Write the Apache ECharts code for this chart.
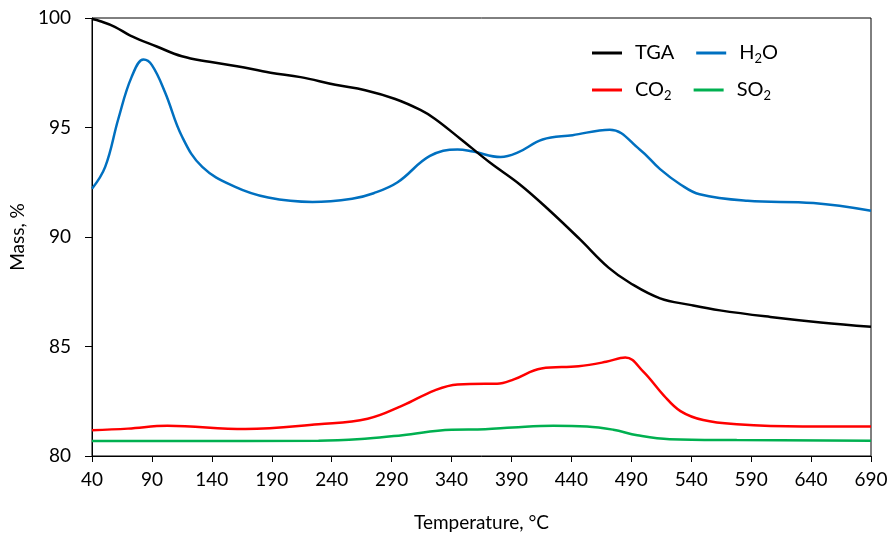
<!DOCTYPE html>
<html>
<head>
<meta charset="utf-8">
<script src="https://cdn.jsdelivr.net/npm/echarts@6/dist/echarts.min.js"></script>
<style>
  html, body { margin: 0; padding: 0; background: #fff; }
  #chart { width: 894px; height: 537px; }
</style>
</head>
<body>
<div id="chart"></div>
<script>
// values
const xTicks = [40, 90, 140, 190, 240, 290, 340, 390, 440, 490, 540, 590, 640, 690];
const yTicks = [80, 85, 90, 95, 100];

const tgaT = [40, 47, 59, 72, 94, 115, 138, 161, 189, 214, 243, 268, 293, 314, 326, 347, 372, 397, 422, 447, 471, 489, 514, 539, 564, 606, 648, 690];
const tgaV = [99.95, 99.85, 99.6, 99.2, 98.7, 98.25, 98.0, 97.8, 97.5, 97.3, 96.95, 96.7, 96.3, 95.8, 95.4, 94.5, 93.4, 92.4, 91.2, 89.9, 88.6, 87.9, 87.2, 86.9, 86.65, 86.35, 86.1, 85.9];

const h2oT = [40, 51, 62, 73, 83, 90, 101, 115, 132, 159, 187, 224, 257, 275, 295, 322, 345, 358, 381, 395, 416, 441, 472, 497, 514, 531, 547, 587, 642, 690];
const h2oV = [92.2, 93.2, 95.4, 97.3, 98.1, 97.85, 96.6, 94.6, 93.2, 92.3, 91.8, 91.6, 91.75, 92.0, 92.5, 93.7, 94.0, 93.9, 93.65, 93.85, 94.45, 94.65, 94.9, 94.0, 93.1, 92.4, 91.95, 91.65, 91.55, 91.2];

const co2T = [40, 70, 103, 168, 229, 270, 299, 326, 345, 368, 378, 392, 415, 446, 469, 485, 500, 517, 531, 550, 578, 633, 690];
const co2V = [81.18, 81.25, 81.38, 81.23, 81.45, 81.7, 82.3, 83.0, 83.27, 83.3, 83.3, 83.5, 84.0, 84.1, 84.3, 84.5, 83.85, 82.77, 82.05, 81.64, 81.45, 81.35, 81.35];

const so2T = [40, 229, 270, 299, 340, 368, 391, 425, 453, 475, 495, 522, 578, 690];
const so2V = [80.68, 80.7, 80.8, 80.95, 81.2, 81.22, 81.3, 81.38, 81.35, 81.2, 80.95, 80.77, 80.73, 80.7];

const seriesNames = ["TGA", "H2O", "CO2", "SO2"];
const seriesColors = ["#000000", "#0070C0", "#FF0000", "#00B050"];

const pairs = (xs, ys) => xs.map((x, i) => [x, ys[i]]);
const seriesData = [pairs(tgaT, tgaV), pairs(h2oT, h2oV), pairs(co2T, co2V), pairs(so2T, so2V)];

const fontFamily = "Lato";
const subRich = {
  n: { fontFamily, fontSize: 20, color: "#000" },
  s: { fontFamily, fontSize: 13, color: "#000", padding: [11, 0, 0, 0] },
};
const legendLabel = (name) => {
  if (name === "H2O") return "{n|H}{s|2}{n|O}";
  if (name === "CO2") return "{n|CO}{s|2}";
  if (name === "SO2") return "{n|SO}{s|2}";
  return "{n|" + name + "}";
};

const legendBase = {
  orient: "horizontal",
  left: 587,
  itemWidth: 30,
  itemHeight: 3,
  itemGap: 22,
  icon: "rect",
  selectedMode: false,
  formatter: legendLabel,
  textStyle: { width: 76, padding: [0, 0, 0, 8], rich: subRich },
};

const chart = echarts.init(document.getElementById("chart"));
chart.setOption({
  animation: false,
  textStyle: { fontFamily },
  grid: {
    left: 92,
    right: 23,
    top: 18,
    bottom: 79,
    show: true,
    borderColor: "#000",
    borderWidth: 1,
  },
  legend: [
    { ...legendBase, top: 38, data: ["TGA", "H2O"] },
    { ...legendBase, top: 75, data: ["CO2", "SO2"] },
  ],
  xAxis: {
    type: "value",
    min: xTicks[0],
    max: xTicks[xTicks.length - 1],
    interval: 50,
    name: "Temperature, °C",
    nameLocation: "middle",
    nameGap: 57,
    nameTextStyle: { fontFamily, fontSize: 19, color: "#000" },
    axisLine: { lineStyle: { color: "#000", width: 1 } },
    axisTick: { show: true, inside: false, length: 6, lineStyle: { color: "#000" } },
    axisLabel: { fontFamily, fontSize: 19, color: "#000", margin: 14 },
    splitLine: { show: false },
  },
  yAxis: {
    type: "value",
    min: yTicks[0],
    max: yTicks[yTicks.length - 1],
    interval: 5,
    name: "Mass, %",
    nameLocation: "middle",
    nameGap: 52,
    nameTextStyle: { fontFamily, fontSize: 19, color: "#000" },
    axisLine: { show: true, lineStyle: { color: "#000", width: 1 } },
    axisTick: { show: true, inside: false, length: 7, lineStyle: { color: "#000" } },
    axisLabel: { fontFamily, fontSize: 19, color: "#000", margin: 21 },
    splitLine: { show: false },
  },
  series: seriesNames.map((name, i) => ({
    name,
    type: "line",
    data: seriesData[i],
    smooth: 0.4,
    showSymbol: false,
    symbol: "none",
    color: seriesColors[i],
    lineStyle: { color: seriesColors[i], width: 2.5 },
    z: 10 - i,
  })),
});
</script>
</body>
</html>
